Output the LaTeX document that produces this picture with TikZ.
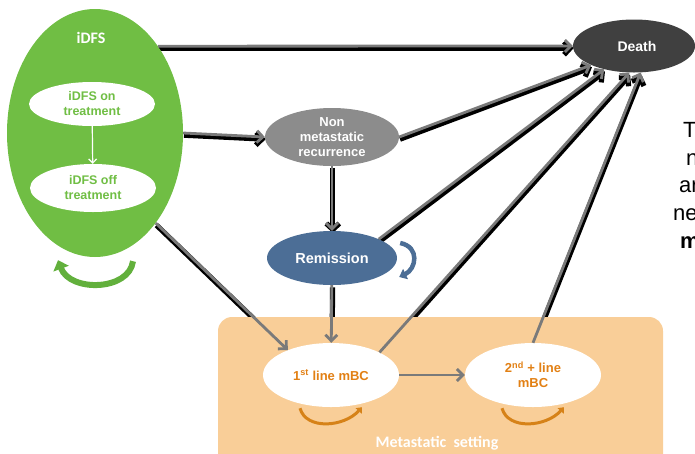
\documentclass[tikz,border=0pt]{standalone}
\usepackage{fontspec}
\setmainfont{Liberation Sans}
\newfontfamily\calibri{Carlito}
\usetikzlibrary{shapes.geometric,arrows.meta}

\pgfdeclarelayer{shadow}
\pgfdeclarelayer{box}
\pgfsetlayers{shadow,box,main}

\definecolor{idfsgreen}{RGB}{112,190,68}
\definecolor{loopgreen}{RGB}{98,176,60}
\definecolor{deathgray}{RGB}{64,64,64}
\definecolor{nonmetgray}{RGB}{140,140,140}
\definecolor{remblue}{RGB}{76,110,150}
\definecolor{settingorange}{RGB}{249,206,152}
\definecolor{mbcorange}{RGB}{226,128,20}
\definecolor{looporange}{RGB}{214,130,24}
\definecolor{flowgray}{RGB}{122,122,122}

\begin{document}
\begin{tikzpicture}[x=1pt,y=-1pt,
  state/.style={ellipse,inner sep=0pt,align=center,text=white},
  bold/.style={font=\bfseries\fontsize{#1}{15}\selectfont},
  flow/.style={draw=flowgray,line width=2.8pt,-{Straight Barb[length=6pt,width=12pt]}},
  flowshadow/.style={draw=black,line width=5.2pt,-{Straight Barb[length=6pt,width=13pt]},
    transform canvas={shift={(0.8pt,-2.2pt)}}},
  selfloop/.style={line width=#1}]
  \useasboundingbox (0,0) rectangle (695,453);

  % metastatic setting
  \begin{pgfonlayer}{box}
    \fill[settingorange,rounded corners=14pt] (218,317) rectangle (663,480);
  \end{pgfonlayer}
  \node[font=\calibri\bfseries\fontsize{16}{18}\selectfont,text=white] (settinglabel) at (437,443) {Metastatic\ \ setting};

  % states
  \node[state,fill=idfsgreen,minimum width=176pt,minimum height=248pt] (idfs) at (95,133) {};
  \node[font=\calibri\bfseries\fontsize{16}{18}\selectfont,text=white] (idfstitle) at (91,38) {iDFS};
  \node[state,fill=white,text=idfsgreen,bold=12.5,minimum width=126pt,minimum height=44pt] (ontreat) at (92,104) {iDFS on\\treatment};
  \node[state,fill=white,text=idfsgreen,bold=12.5,minimum width=126pt,minimum height=48pt] (offtreat) at (93,188) {iDFS off\\treatment};
  \node[state,fill=deathgray,bold=14,minimum width=122pt,minimum height=53pt] (death) at (634,46) {\hspace*{6pt}Death};
  \node[state,fill=nonmetgray,bold=13,minimum width=134pt,minimum height=58pt,inner sep=-6pt] (nonmet) at (332,137) {Non\\metastatic\\recurrence};
  \node[state,fill=remblue,bold=14.5,minimum width=130pt,minimum height=54pt] (rem) at (332,258) {Remission};
  \node[state,fill=white,text=mbcorange,bold=13,minimum width=136pt,minimum height=64pt] (first) at (331,375) {1\textsuperscript{st} line mBC};
  \node[state,fill=white,text=mbcorange,bold=13,minimum width=136pt,minimum height=64pt] (second) at (533,375) {2\textsuperscript{nd} + line\\mBC};

  \draw[white,line width=1.2pt,-{Straight Barb[length=4pt,width=8pt]}] (ontreat) -- (offtreat);

  % transitions
  \begin{pgfonlayer}{shadow}
    \foreach \from/\to in {idfs.54/death.west,idfs.east/nonmet.west,nonmet.east/death.204,
      rem.22/death.218,nonmet/rem,idfs.304/first.150,rem/first,first.25/death.260,
      second.north/death.284,first/second}
      \draw[flowshadow] (\from) -- (\to);
  \end{pgfonlayer}
  \foreach \from/\to in {idfs.54/death.west,idfs.east/nonmet.west,nonmet.east/death.204,
    rem.22/death.218,nonmet/rem,idfs.304/first.150,rem/first,first.25/death.260,
    second.north/death.284,first/second}
    \draw[flow] (\from) -- (\to);

  % staying in a state
  \draw[selfloop=6pt,loopgreen,-{Triangle[length=9pt,width=16pt]}]
    ([shift={(38pt,-4pt)}]idfs.south) .. controls +(-4,30) and +(12,32) .. ([shift={(-37pt,-3pt)}]idfs.south);
  \draw[selfloop=4.5pt,remblue,-{Triangle[length=7pt,width=11pt]}]
    ([shift={(3pt,15pt)}]rem.east) .. controls +(20,4) and +(17,-8) .. ([shift={(2pt,-19pt)}]rem.east);
  \foreach \s in {first,second}
    \draw[selfloop=3pt,looporange,-{Triangle[length=5pt,width=8pt]}]
      ([shift={(-31pt,-1pt)}]\s.south) .. controls +(6,22) and +(-18,20) .. ([shift={(31pt,0pt)}]\s.south);

  % text cut off at the right edge
  \node[anchor=base west,font=\fontsize{22}{26}\selectfont,inner sep=0pt] (cutT) at (683,137) {T};
  \node[anchor=base west,font=\fontsize{22}{26}\selectfont,inner sep=0pt] (cutn) at (686,165) {n};
  \node[anchor=base west,font=\fontsize{22}{26}\selectfont,inner sep=0pt] (cutar) at (679,192) {ar};
  \node[anchor=base west,font=\fontsize{22}{26}\selectfont,inner sep=0pt] (cutne) at (673,220) {ne};
  \node[anchor=base west,font=\bfseries\fontsize{22}{26}\selectfont,inner sep=0pt] (cutm) at (680,248) {m};
\end{tikzpicture}
\end{document}
